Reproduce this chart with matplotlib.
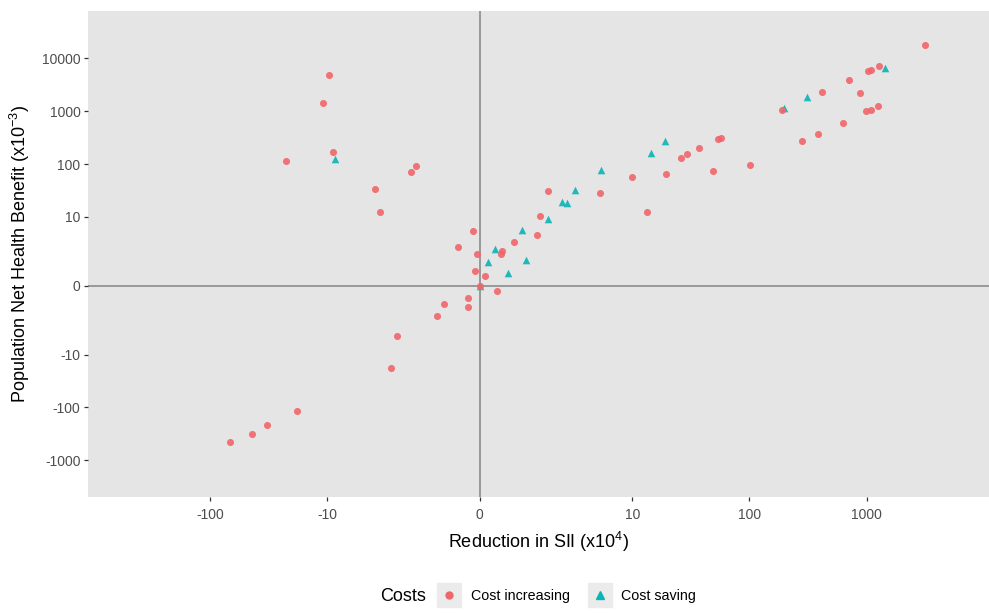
import matplotlib
matplotlib.use("Agg")
import matplotlib.pyplot as plt
from matplotlib.lines import Line2D
from matplotlib.legend_handler import HandlerTuple
import numpy as np

plt.rcParams['font.family'] = ['Liberation Sans', 'DejaVu Sans']
plt.rcParams['mathtext.fontset'] = 'custom'
plt.rcParams['mathtext.rm'] = 'Liberation Sans'
plt.rcParams['mathtext.it'] = 'Liberation Sans:italic'
plt.rcParams['mathtext.bf'] = 'Liberation Sans:bold'
plt.rcParams['mathtext.default'] = 'rm'

# ---- data ----
# Cost increasing: reduction in SII (x1e4), population net health benefit (x1e-3)
inc_x = [-9.66, -10.9, -8.97, -22.4, -1.61, -1.82, -3.88, -3.46,
         -0.14, -0.435, -0.061, -0.095, 0.102, 0.0, 0.338, -0.24, -0.228, -0.77, -0.952,
         0.457, 0.429, 0.717, 1.385, 1.489, 1.766, 5.28, 9.96, 13.4, 19.4,
         26.2, 29.5, 37.1, 48.5, 54.4, 57.5, 101, 190.6, 419.7, 277.9, 385.9,
         634, 700, 882, 993, 1082, 1256, 1026, 1082, 1281, 3157,
         -2.446, -2.757, -18.0, -32.5, -43.7, -68.0]
inc_y = [4820, 1406, 171, 112.6, 90.5, 70.6, 34.1, 12.19,
         5.36, 2.60, 1.835, 0.70, 0.421, 0.0, -0.233, -0.577, -1.047, -0.901, -1.711,
         2.155, 1.863, 3.28, 4.53, 10.29, 30.6, 28.7, 56.3, 12.5, 64.8,
         128.3, 156.7, 203.5, 73.8, 297, 314.6, 97.1, 1037, 2301, 266.7, 374.4,
         604.5, 3846, 2156, 1006, 1051, 1224, 5670, 5920, 7046, 17430,
         -4.41, -18.2, -115.5, -218, -319, -452]

# Cost saving
sav_x = [-8.57, 0.0, 0.162, 0.309, 0.583, 0.936, 1.038, 1.766, 2.415, 2.683,
         3.155, 5.36, 14.29, 18.9, 198, 309.6, 1442]
sav_y = [122.8, 0.0, 1.205, 2.34, 0.567, 5.49, 1.368, 8.98, 18.71, 18.55,
         31.83, 75.4, 159.5, 269, 1122, 1835, 6545]

x_ticks = [-100, -10, 0, 10, 100, 1000]
y_ticks = [-1000, -100, -10, 0, 10, 100, 1000, 10000]
x_ticklabels = ['-100', '-10', '0', '10', '100', '1000']
y_ticklabels = ['-1000', '-100', '-10', '0', '10', '100', '1000', '10000']

RED = '#F1666A'
TEAL = '#0DB3B6'

fig = plt.figure(figsize=(9.89, 6.14), dpi=100)
ax = fig.add_axes([0.0893, 0.1901, 0.9107, 0.7920])
ax.set_facecolor('#E5E5E5')
for s in ax.spines.values():
    s.set_visible(False)

ax.set_xscale('asinh', linear_width=1)
ax.set_yscale('asinh', linear_width=1)

ax.axhline(0, color='#8C8C8C', lw=1.2, zorder=1)
ax.axvline(0, color='#8C8C8C', lw=1.2, zorder=1)

ax.scatter(sav_x, sav_y, marker='^', s=30, color=TEAL, alpha=0.9, linewidths=0, zorder=3)
ax.scatter(inc_x, inc_y, marker='o', s=26, color=RED, alpha=0.9, linewidths=0, zorder=3)

ax.set_xlim(-1095, 11060)
ax.set_ylim(-5017, 78300)

ax.set_xticks(x_ticks)
ax.set_xticklabels(x_ticklabels)
ax.set_yticks(y_ticks)
ax.set_yticklabels(y_ticklabels)
ax.xaxis.set_minor_locator(matplotlib.ticker.NullLocator())
ax.yaxis.set_minor_locator(matplotlib.ticker.NullLocator())
ax.tick_params(axis='both', which='major', length=2.7, width=0.9, color='#333333',
               labelcolor='#4D4D4D', labelsize=10, pad=3)
ax.tick_params(axis='x', pad=5)

ax.set_xlabel('Reduction in SII (x10$^{4}$)', fontsize=13, color='black', labelpad=6)
ax.set_ylabel('Population Net Health Benefit (x10$^{-3}$)', fontsize=13, color='black', labelpad=7)

# legend
key_bg = dict(marker='s', ms=17.5, color='#EBEBEB', ls='')
h1 = (Line2D([], [], **key_bg), Line2D([], [], marker='o', ms=5, color=RED, ls=''))
h2 = (Line2D([], [], **key_bg), Line2D([], [], marker='^', ms=5.5, color=TEAL, ls=''))
leg = fig.legend([h1, h2], ['Cost increasing', 'Cost saving'],
                 handler_map={tuple: HandlerTuple(ndivide=1)},
                 loc='center', bbox_to_anchor=(0.574, 0.0293), ncol=2, frameon=False,
                 fontsize=10.3, handlelength=1.4, handletextpad=0.8, columnspacing=1.4)
fig.text(0.384, 0.0293, 'Costs', fontsize=13, ha='left', va='center')

fig.savefig('out.png', dpi=100)
